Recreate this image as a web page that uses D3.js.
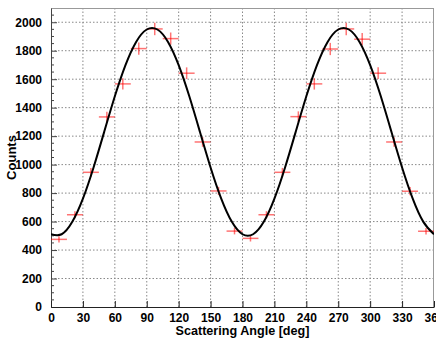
<!DOCTYPE html>
<html>
<head>
<meta charset="utf-8">
<script src="https://cdn.jsdelivr.net/npm/d3@7"></script>
<style>
  body { margin: 0; background: #fff; }
  text { font-family: "Liberation Sans", Arial, sans-serif; font-weight: bold; fill: #000; }
</style>
</head>
<body>
<div id="chart"></div>
<script>
// measured points (bin centre, counts, stat error)
var angles = [7.5, 22.5, 37.5, 52.5, 67.5, 82.5, 97.5, 112.5, 127.5, 142.5, 157.5, 172.5,
              187.5, 202.5, 217.5, 232.5, 247.5, 262.5, 277.5, 292.5, 307.5, 322.5, 337.5, 352.5];
var counts = [475, 648, 946, 1335, 1567, 1815, 1953, 1885, 1642, 1159, 815, 533,
              482, 648, 946, 1337, 1567, 1812, 1953, 1881, 1642, 1159, 813, 532];
var errors = [22, 25, 31, 37, 40, 43, 44, 43, 41, 34, 29, 23,
              22, 25, 31, 37, 40, 43, 44, 43, 41, 34, 29, 23];
var binHalf = 7.5;

// fit curve every 10 deg
var fitAngles = [0, 10, 20, 30, 40, 50, 60, 70, 80, 90, 100, 110, 120, 130, 140, 150, 160, 170, 180,
                 190, 200, 210, 220, 230, 240, 250, 260, 270, 280, 290, 300, 310, 320, 330, 340, 350, 360];
var fitCounts = [511, 511, 598, 761, 980, 1230, 1480, 1699, 1862, 1949, 1949, 1862, 1699, 1480, 1230, 980, 761, 598, 511,
                 511, 598, 761, 980, 1230, 1480, 1699, 1862, 1949, 1949, 1862, 1699, 1480, 1230, 980, 761, 598, 511];

var xTicks = [0, 30, 60, 90, 120, 150, 180, 210, 240, 270, 300, 330, 360];
var yTicks = [0, 200, 400, 600, 800, 1000, 1200, 1400, 1600, 1800, 2000];

var W = 436, H = 346;
var margin = { top: 8, right: 2, bottom: 39, left: 51 },
    width = W - margin.left - margin.right,
    height = H - margin.top - margin.bottom;

var svg = d3.select("#chart").append("svg")
    .attr("width", W)
    .attr("height", H);

var canvas = svg.append("g")
    .attr("transform", "translate(" + margin.left + "," + margin.top + ")");

var x = d3.scaleLinear().domain([0, 360]).range([0, width]);
var y = d3.scaleLinear().domain([0, 2100]).range([height, 0]);

canvas.append("clipPath").attr("id", "plotclip")
    .append("rect").attr("width", width).attr("height", height);

// grid
canvas.append("g").selectAll("line")
    .data(xTicks.slice(1, -1))
    .enter().append("line")
    .attr("x1", function (d) { return x(d); })
    .attr("x2", function (d) { return x(d); })
    .attr("y1", 0).attr("y2", height)
    .attr("stroke", "#888").attr("stroke-dasharray", "1.5,2");
canvas.append("g").selectAll("line")
    .data(yTicks.slice(1))
    .enter().append("line")
    .attr("y1", function (d) { return y(d); })
    .attr("y2", function (d) { return y(d); })
    .attr("x1", 0).attr("x2", width)
    .attr("stroke", "#888").attr("stroke-dasharray", "1.5,2");

// frame
canvas.append("line").attr("x1", 0).attr("x2", width).attr("y1", 0.5).attr("y2", 0.5)
    .attr("stroke", "#999");
canvas.append("line").attr("x1", width - 0.5).attr("x2", width - 0.5).attr("y1", 0).attr("y2", height)
    .attr("stroke", "#999");

// y axis: labels outside, ticks inward
var yAxis = canvas.append("g")
    .call(d3.axisLeft(y).tickValues(yTicks).tickFormat(d3.format("d"))
        .tickSizeInner(-6).tickSizeOuter(0).tickPadding(9));
yAxis.select(".domain").attr("stroke", "#444");
yAxis.selectAll(".tick line").attr("stroke", "#444");
yAxis.selectAll("text").style("font-size", "12px").attr("fill", "#000");

// y minor ticks every 50
var yMinor = d3.range(50, 2100, 50).filter(function (v) { return v % 200 !== 0; });
canvas.append("g").selectAll("line")
    .data(yMinor)
    .enter().append("line")
    .attr("x1", 0).attr("x2", 3)
    .attr("y1", function (d) { return y(d); })
    .attr("y2", function (d) { return y(d); })
    .attr("stroke", "#444");

var xAxis = canvas.append("g")
    .attr("transform", "translate(0," + height + ")")
    .call(d3.axisBottom(x).tickValues(xTicks).tickFormat(d3.format("d"))
        .tickSizeInner(-6).tickSizeOuter(0).tickPadding(6));
xAxis.select(".domain").attr("stroke", "#222");
xAxis.selectAll(".tick line").attr("stroke", "#222");
xAxis.selectAll("text").style("font-size", "12px").attr("fill", "#000");

// data crosses
var pts = angles.map(function (a, i) { return { a: a, c: counts[i], e: errors[i] }; });
var cross = canvas.append("g")
    .attr("stroke", "red").attr("stroke-opacity", 0.55).attr("stroke-width", 1.5);
cross.selectAll(".hbar").data(pts).enter().append("line")
    .attr("class", "hbar")
    .attr("x1", function (d) { return x(d.a - binHalf); })
    .attr("x2", function (d) { return x(d.a + binHalf); })
    .attr("y1", function (d) { return y(d.c); })
    .attr("y2", function (d) { return y(d.c); });
cross.selectAll(".vbar").data(pts).enter().append("line")
    .attr("class", "vbar")
    .attr("x1", function (d) { return x(d.a); })
    .attr("x2", function (d) { return x(d.a); })
    .attr("y1", function (d) { return y(d.c - d.e); })
    .attr("y2", function (d) { return y(d.c + d.e); });

// fit curve
var line = d3.line()
    .x(function (d, i) { return x(fitAngles[i]); })
    .y(function (d) { return y(d); })
    .curve(d3.curveNatural);
canvas.append("path")
    .datum(fitCounts)
    .attr("clip-path", "url(#plotclip)")
    .attr("d", line)
    .attr("fill", "none")
    .attr("stroke", "#000")
    .attr("stroke-width", 2);

// titles
svg.append("text")
    .attr("x", margin.left + width / 2)
    .attr("y", 335)
    .attr("text-anchor", "middle")
    .style("font-size", "12.6px")
    .text("Scattering Angle [deg]");

svg.append("text")
    .attr("transform", "translate(16," + (margin.top + height / 2) + ") rotate(-90)")
    .attr("text-anchor", "middle")
    .style("font-size", "13px")
    .text("Counts");
</script>
</body>
</html>
